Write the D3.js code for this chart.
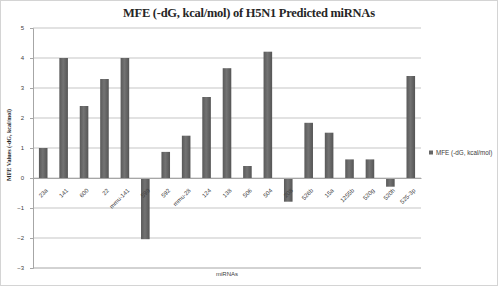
<!DOCTYPE html>
<html>
<head>
<meta charset="utf-8">
<script src="https://cdn.jsdelivr.net/npm/d3@7"></script>
<style>
  body { margin: 0; background: #fff; }
  svg { display: block; }
</style>
</head>
<body>
<div id="chart"></div>
<script>
// data
const mirnas = ["23a", "141", "600", "22", "mmu-141", "599", "592", "mmu-28", "124", "138",
    "506", "504", "208", "526b", "15a", "1255b", "520g", "520h", "525-3p"];
const mfeValues = [1.0, 4.0, 2.4, 3.3, 4.0, -2.04, 0.87, 1.41, 2.7, 3.66,
    0.4, 4.21, -0.79, 1.84, 1.51, 0.62, 0.62, -0.29, 3.4];
const yTicks = [-3, -2, -1, 0, 1, 2, 3, 4, 5];
const seriesName = "MFE (-dG, kcal/mol)";

const W = 498, H = 286;
const margin = {top: 28, right: 77, bottom: 18, left: 33};
const width = W - margin.left - margin.right;
const height = H - margin.top - margin.bottom;

const svg = d3.select("#chart").append("svg")
    .attr("width", W)
    .attr("height", H);

// outer border
svg.append("rect")
    .attr("x", 0.5).attr("y", 0.5)
    .attr("width", W - 1).attr("height", H - 1)
    .attr("fill", "#fff")
    .attr("stroke", "#d4d4d4");

const defs = svg.append("defs");
const grad = defs.append("linearGradient")
    .attr("id", "barGrad")
    .attr("x1", "0%").attr("x2", "100%").attr("y1", "0%").attr("y2", "0%");
grad.append("stop").attr("offset", "0%").attr("stop-color", "#595959");
grad.append("stop").attr("offset", "45%").attr("stop-color", "#737373");
grad.append("stop").attr("offset", "100%").attr("stop-color", "#555555");

const g = svg.append("g")
    .attr("transform", `translate(${margin.left}, ${margin.top})`);

const y = d3.scaleLinear()
    .domain([-3, 5])
    .range([height, 0]);

const x = d3.scaleBand()
    .domain(mirnas)
    .range([0, width])
    .paddingInner(0.58)
    .paddingOuter(0.29);

// gridlines
g.append("g")
    .attr("class", "grid")
    .selectAll("line")
    .data(yTicks)
    .join("line")
    .attr("x1", 0).attr("x2", width)
    .attr("y1", d => y(d)).attr("y2", d => y(d))
    .attr("stroke", d => d === -3 ? "#a6a6a6" : "#d9d9d9")
    .attr("stroke-width", d => d === -3 ? 1 : 1.5);

// y axis
const yAxis = d3.axisLeft(y)
    .tickValues(yTicks)
    .tickSize(3)
    .tickPadding(6)
    .tickFormat(d3.format("d"));

const yAxisGroup = g.append("g").attr("class", "y-axis").call(yAxis);
yAxisGroup.select(".domain").attr("stroke", "#a6a6a6");
yAxisGroup.selectAll(".tick line").attr("stroke", "#a6a6a6");
yAxisGroup.selectAll("text")
    .attr("font-family", "Liberation Sans, Arial, sans-serif")
    .attr("font-size", "6px")
    .attr("fill", "#404040");

// bars
g.selectAll(".bar")
    .data(mfeValues)
    .join("rect")
    .attr("class", "bar")
    .attr("x", (d, i) => x(mirnas[i]))
    .attr("width", x.bandwidth())
    .attr("y", d => y(Math.max(0, d)))
    .attr("height", d => Math.abs(y(d) - y(0)))
    .attr("fill", "url(#barGrad)");

// category axis at zero
const xAxis = d3.axisBottom(x)
    .tickSize(0)
    .tickPadding(0);

const xAxisGroup = g.append("g")
    .attr("class", "x-axis")
    .attr("transform", `translate(0, ${y(0)})`)
    .call(xAxis);
xAxisGroup.select(".domain").attr("stroke", "#a6a6a6");
xAxisGroup.selectAll(".tick text")
    .attr("font-family", "Liberation Sans, Arial, sans-serif")
    .attr("font-size", "6px")
    .attr("fill", "#404040")
    .attr("text-anchor", "end")
    .attr("x", 0)
    .attr("y", 0)
    .attr("dy", "0")
    .attr("transform", "translate(5, 13) rotate(-45)");

// title
svg.append("text")
    .attr("x", 249)
    .attr("y", 17)
    .attr("text-anchor", "middle")
    .attr("font-family", "Liberation Serif, Times New Roman, serif")
    .attr("font-weight", "bold")
    .attr("font-size", "12.5px")
    .attr("fill", "#262626")
    .attr("textLength", 252)
    .attr("lengthAdjust", "spacing")
    .text("MFE (-dG, kcal/mol) of H5N1 Predicted miRNAs");

// y axis title
svg.append("text")
    .attr("transform", `translate(11, ${margin.top + height / 2 - 3}) rotate(-90)`)
    .attr("text-anchor", "middle")
    .attr("font-family", "Liberation Serif, Times New Roman, serif")
    .attr("font-weight", "bold")
    .attr("font-size", "6px")
    .attr("fill", "#262626")
    .text("MFE Values (-dG, kcal/mol)");

// x axis title
svg.append("text")
    .attr("x", margin.left + width / 2)
    .attr("y", 276)
    .attr("text-anchor", "middle")
    .attr("font-family", "Liberation Sans, Arial, sans-serif")
    .attr("font-size", "6px")
    .attr("fill", "#404040")
    .text("miRNAs");

// legend
const legend = svg.append("g")
    .attr("transform", "translate(429, 155)");
legend.append("rect")
    .attr("x", 0).attr("y", -4.5)
    .attr("width", 4).attr("height", 4)
    .attr("fill", "#666");
legend.append("text")
    .attr("x", 7).attr("y", 0)
    .attr("font-family", "Liberation Sans, Arial, sans-serif")
    .attr("font-size", "6.3px")
    .attr("fill", "#404040")
    .text(seriesName);
</script>
</body>
</html>
